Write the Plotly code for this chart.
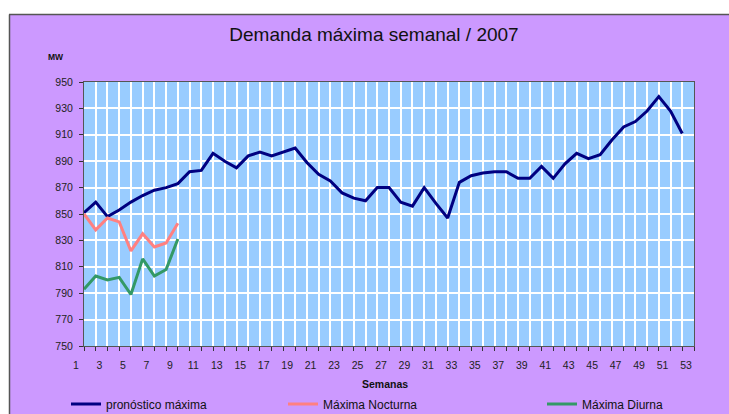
import plotly.graph_objects as go

weeks = list(range(1, 54))
pronostico_weeks = list(range(1, 53))
pronostico = [851, 859, 848, 853, 859, 864, 868, 870, 873, 882,
              883, 896, 890, 885, 894, 897, 894, 897, 900, 889,
              880, 875, 866, 862, 860, 870, 870, 859, 856, 870,
              858, 847, 874, 879, 881, 882, 882, 877, 877, 886,
              877, 888, 896, 892, 895, 906, 916, 920, 928, 939,
              928, 911]
nocturna_weeks = list(range(1, 10))
nocturna = [850, 838, 847, 844, 822, 835, 825, 828, 843]
diurna_weeks = list(range(1, 10))
diurna = [793, 803, 800, 802, 789, 816, 803, 808, 831]
y_ticks = [750, 770, 790, 810, 830, 850, 870, 890, 910, 930, 950]
x_ticktext = [str(w) if w % 2 == 1 else "" for w in weeks]

PURPLE = "#CC99FF"
PLOTBG = "#99CCFF"
FONT = "Liberation Sans, Arial, sans-serif"

fig = go.Figure()
fig.add_trace(go.Scatter(x=pronostico_weeks, y=pronostico, mode="lines",
                         name="pronóstico máxima",
                         line=dict(color="#000080", width=3), legend="legend"))
fig.add_trace(go.Scatter(x=nocturna_weeks, y=nocturna, mode="lines",
                         name="Máxima Nocturna",
                         line=dict(color="#FF8080", width=3), legend="legend2"))
fig.add_trace(go.Scatter(x=diurna_weeks, y=diurna, mode="lines",
                         name="Máxima Diurna",
                         line=dict(color="#339966", width=3), legend="legend3"))

L, R, T, B = 84, 35, 82, 68
W, H = 729, 414
pw, ph = W - L - R, H - T - B


def px(xp):
    return (xp - L) / pw


def py(yp):
    return (H - B - yp) / ph


leg_common = dict(orientation="h", bgcolor="rgba(0,0,0,0)",
                  font=dict(family=FONT, size=12, color="#111"),
                  yanchor="middle", xanchor="left", y=py(404),
                  itemwidth=30, tracegroupgap=0)

fig.update_layout(
    width=W, height=H,
    margin=dict(l=L, r=R, t=T, b=B, autoexpand=False),
    paper_bgcolor=PURPLE,
    plot_bgcolor=PLOTBG,
    font=dict(family=FONT, color="#111"),
    title=dict(text="Demanda máxima semanal / 2007",
               font=dict(family=FONT, size=19, color="#111"),
               x=374 / W, xanchor="center", y=1 - 34 / H, yanchor="middle"),
    xaxis=dict(range=[1, 53], tickmode="array", tickvals=weeks, ticktext=x_ticktext,
               showgrid=True, gridcolor="white", gridwidth=1.5,
               ticks="outside", ticklen=4, tickcolor="#333",
               showline=True, linecolor="#555", linewidth=1, mirror=True,
               tickfont=dict(family=FONT, size=10.5, color="#222"),
               ticklabelshift=-8, ticklabelstandoff=5, automargin=False,
               zeroline=False, fixedrange=True),
    yaxis=dict(range=[750, 950], tickmode="array", tickvals=y_ticks,
               showgrid=True, gridcolor="white", gridwidth=1.5,
               ticks="outside", ticklen=4, tickcolor="#333",
               showline=True, linecolor="#555", linewidth=1, mirror=True,
               tickfont=dict(family=FONT, size=10.5, color="#222"),
               ticklabelstandoff=4, automargin=False,
               zeroline=False, fixedrange=True),
    legend=dict(x=px(66), **leg_common),
    legend2=dict(x=px(283), **leg_common),
    legend3=dict(x=px(542), **leg_common),
    showlegend=True,
)

fig.add_annotation(text="<b>MW</b>", x=px(56), y=py(57), xref="paper", yref="paper",
                   xanchor="center", yanchor="middle",
                   showarrow=False, font=dict(family=FONT, size=8.5, color="#111"))
fig.add_annotation(text="<b>Semanas</b>", x=px(385), y=py(384), xref="paper", yref="paper",
                   xanchor="center", yanchor="middle",
                   showarrow=False, font=dict(family=FONT, size=10.5, color="#111"))

# white margin strips and chart border
fig.add_shape(type="rect", xref="paper", yref="paper",
              x0=px(-5), x1=px(W + 5), y0=py(14), y1=py(-5),
              fillcolor="white", line=dict(width=0), layer="above")
fig.add_shape(type="rect", xref="paper", yref="paper",
              x0=px(-5), x1=px(9), y0=py(H + 5), y1=py(-5),
              fillcolor="white", line=dict(width=0), layer="above")
fig.add_shape(type="line", xref="paper", yref="paper",
              x0=px(9), x1=px(W + 5), y0=py(14.5), y1=py(14.5),
              line=dict(color="#555", width=1.5), layer="above")
fig.add_shape(type="line", xref="paper", yref="paper",
              x0=px(9.5), x1=px(9.5), y0=py(14.5), y1=py(H + 5),
              line=dict(color="#555", width=1.5), layer="above")

fig.write_html(
    "out.html",
    config={"displayModeBar": False},
    post_script=("document.body.style.margin='0';"
                 "document.body.style.overflow='hidden';"
                 "document.documentElement.style.overflow='hidden';"),
)
